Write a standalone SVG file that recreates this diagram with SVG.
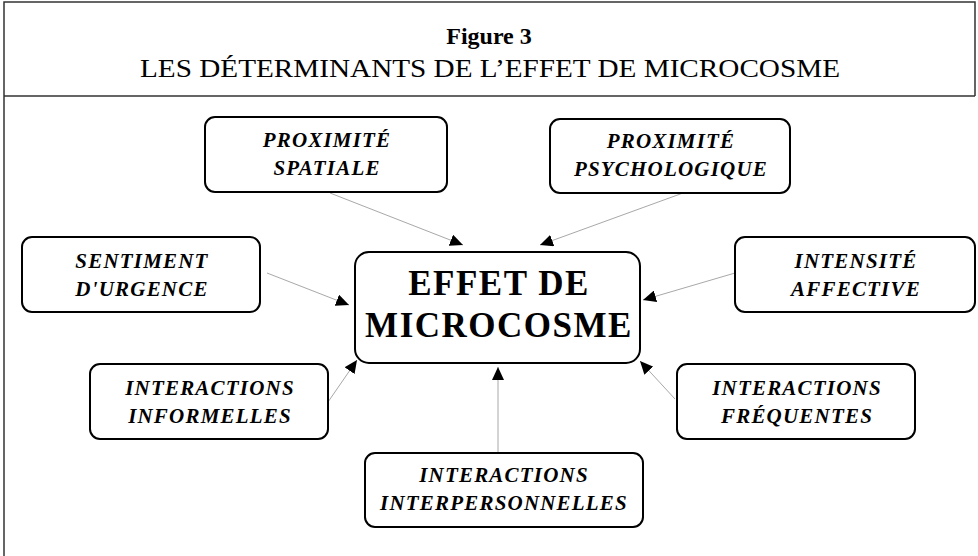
<svg xmlns="http://www.w3.org/2000/svg" width="978" height="556" viewBox="0 0 978 556">
<style>
.node{fill:#fff;stroke:#000;stroke-width:2}
.lbl{font-family:"Liberation Serif","Times New Roman",serif;font-weight:bold;font-style:italic;font-size:21px;letter-spacing:1.2px;text-anchor:middle;fill:#000}
.main{font-family:"Liberation Serif","Times New Roman",serif;font-weight:bold;font-size:35px;letter-spacing:1.5px;text-anchor:middle;fill:#000}
.conn{stroke:#a8a8a8;stroke-width:1;fill:none;marker-end:url(#ah)}
.frame{stroke:#333;stroke-width:1.5;fill:none}
.ttl{font-family:"Liberation Serif","Times New Roman",serif;text-anchor:middle;fill:#000}
</style>
<defs>
<marker id="ah" markerUnits="userSpaceOnUse" markerWidth="14" markerHeight="12" refX="13" refY="6" orient="auto">
<path d="M0,0 L13,6 L0,12 Z" fill="#000"/>
</marker>
</defs>
<rect width="978" height="556" fill="#fff"/>
<g id="frame">
<path class="frame" d="M4,556 L4,2 L975,2 L975,96 M4,96 L975,96"/>
<text class="ttl" x="489" y="44" font-weight="bold" font-size="24">Figure 3</text>
<text class="ttl" x="490" y="77" font-size="25" textLength="700" lengthAdjust="spacingAndGlyphs">LES DÉTERMINANTS DE L’EFFET DE MICROCOSME</text>
</g>
<g id="connectors">
<line class="conn" x1="330" y1="193" x2="463" y2="245"/>
<line class="conn" x1="683" y1="193" x2="540" y2="245"/>
<line class="conn" x1="267" y1="273" x2="349" y2="305"/>
<line class="conn" x1="328" y1="402" x2="357" y2="360"/>
<line class="conn" x1="735" y1="273" x2="643" y2="300"/>
<line class="conn" x1="675" y1="399" x2="640" y2="361"/>
<line class="conn" x1="498" y1="453" x2="498" y2="367"/>
</g>
<g id="effet">
<rect class="node" x="355" y="252" width="285" height="111" rx="14"/>
<text class="main" x="499" y="295">EFFET DE</text>
<text class="main" x="499" y="337">MICROCOSME</text>
</g>
<g id="spatiale">
<rect class="node" x="205" y="117" width="242" height="75" rx="10"/>
<text class="lbl" x="327" y="147">PROXIMITÉ</text>
<text class="lbl" x="327" y="175">SPATIALE</text>
</g>
<g id="psychologique">
<rect class="node" x="550" y="119" width="240" height="74" rx="10"/>
<text class="lbl" x="671" y="148">PROXIMITÉ</text>
<text class="lbl" x="671" y="176">PSYCHOLOGIQUE</text>
</g>
<g id="sentiment">
<rect class="node" x="22" y="237" width="238" height="75" rx="10"/>
<text class="lbl" x="142" y="268">SENTIMENT</text>
<text class="lbl" x="142" y="296">D'URGENCE</text>
</g>
<g id="intensite">
<rect class="node" x="735" y="237" width="240" height="75" rx="10"/>
<text class="lbl" x="856" y="268">INTENSITÉ</text>
<text class="lbl" x="856" y="296">AFFECTIVE</text>
</g>
<g id="informelles">
<rect class="node" x="90" y="364" width="238" height="75" rx="10"/>
<text class="lbl" x="210" y="395">INTERACTIONS</text>
<text class="lbl" x="210" y="423">INFORMELLES</text>
</g>
<g id="frequentes">
<rect class="node" x="677" y="364" width="238" height="75" rx="10"/>
<text class="lbl" x="797" y="395">INTERACTIONS</text>
<text class="lbl" x="797" y="423">FRÉQUENTES</text>
</g>
<g id="interpersonnelles">
<rect class="node" x="365" y="453" width="278" height="74" rx="10"/>
<text class="lbl" x="504" y="482">INTERACTIONS</text>
<text class="lbl" x="504" y="510">INTERPERSONNELLES</text>
</g>
</svg>
